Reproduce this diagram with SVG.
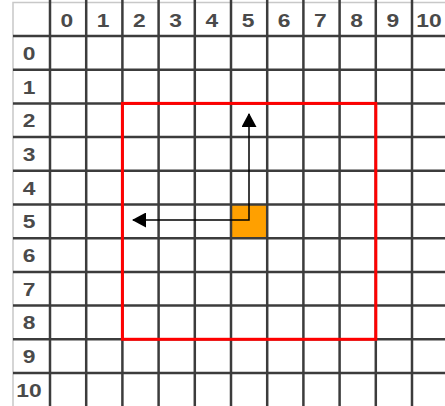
<svg xmlns="http://www.w3.org/2000/svg" width="445" height="406" viewBox="0 0 445 406">
<style>
.grid line{stroke:#3c3c3c;stroke-width:2.5}
.border{stroke:#c8c8c8;stroke-width:1.5;fill:none}
.lbl{font-family:"Liberation Sans",Arial,sans-serif;font-size:19px;font-weight:bold;fill:#4a4a4a;text-anchor:middle}
</style>
<defs>
<marker id="ah" viewBox="0 0 14 15" refX="13" refY="7.5" markerWidth="14" markerHeight="15" markerUnits="userSpaceOnUse" orient="auto-start-reverse">
<path d="M0,0 L14,7.5 L0,15 z" fill="#000"/>
</marker>
</defs>
<rect x="0" y="0" width="445" height="406" fill="#fff"/>
<g id="header-border">
<path class="border" d="M13,406 V2.5 H445"/>
</g>
<g id="cell-5-5">
<rect x="231" y="204.5" width="36.2" height="33.7" fill="#ffa000"/>
</g>
<g id="grid" class="grid">
<line x1="50" y1="0" x2="50" y2="406"/>
<line x1="86.2" y1="0" x2="86.2" y2="406"/>
<line x1="122.4" y1="0" x2="122.4" y2="406"/>
<line x1="158.6" y1="0" x2="158.6" y2="406"/>
<line x1="194.8" y1="0" x2="194.8" y2="406"/>
<line x1="231" y1="0" x2="231" y2="406"/>
<line x1="267.2" y1="0" x2="267.2" y2="406"/>
<line x1="303.4" y1="0" x2="303.4" y2="406"/>
<line x1="339.6" y1="0" x2="339.6" y2="406"/>
<line x1="375.8" y1="0" x2="375.8" y2="406"/>
<line x1="412" y1="0" x2="412" y2="406"/>
<line x1="13" y1="36" x2="445" y2="36"/>
<line x1="13" y1="69.7" x2="445" y2="69.7"/>
<line x1="13" y1="103.4" x2="445" y2="103.4"/>
<line x1="13" y1="137.1" x2="445" y2="137.1"/>
<line x1="13" y1="170.8" x2="445" y2="170.8"/>
<line x1="13" y1="204.5" x2="445" y2="204.5"/>
<line x1="13" y1="238.2" x2="445" y2="238.2"/>
<line x1="13" y1="271.9" x2="445" y2="271.9"/>
<line x1="13" y1="305.6" x2="445" y2="305.6"/>
<line x1="13" y1="339.3" x2="445" y2="339.3"/>
<line x1="13" y1="373" x2="445" y2="373"/>
</g>
<g id="region">
<rect x="122.4" y="103.4" width="253.4" height="235.9" fill="none" stroke="#ff0000" stroke-width="3"/>
</g>
<g id="connectors">
<polyline points="249,114 249,220 133,220" fill="none" stroke="#000" stroke-width="1.5" marker-start="url(#ah)" marker-end="url(#ah)"/>
</g>
<g id="labels" class="lbl" transform="scale(1.2,1)">
<text x="55.8" y="27">0</text>
<text x="86.0" y="27">1</text>
<text x="116.2" y="27">2</text>
<text x="146.3" y="27">3</text>
<text x="176.5" y="27">4</text>
<text x="206.7" y="27">5</text>
<text x="236.8" y="27">6</text>
<text x="267.0" y="27">7</text>
<text x="297.2" y="27">8</text>
<text x="327.4" y="27">9</text>
<text x="357.5" y="27">10</text>
<text x="24.2" y="59.9">0</text>
<text x="24.2" y="93.6">1</text>
<text x="24.2" y="127.3">2</text>
<text x="24.2" y="161">3</text>
<text x="24.2" y="194.7">4</text>
<text x="24.2" y="228.4">5</text>
<text x="24.2" y="262.1">6</text>
<text x="24.2" y="295.8">7</text>
<text x="24.2" y="329.5">8</text>
<text x="24.2" y="363.2">9</text>
<text x="24.2" y="396.9">10</text>
</g>
</svg>
